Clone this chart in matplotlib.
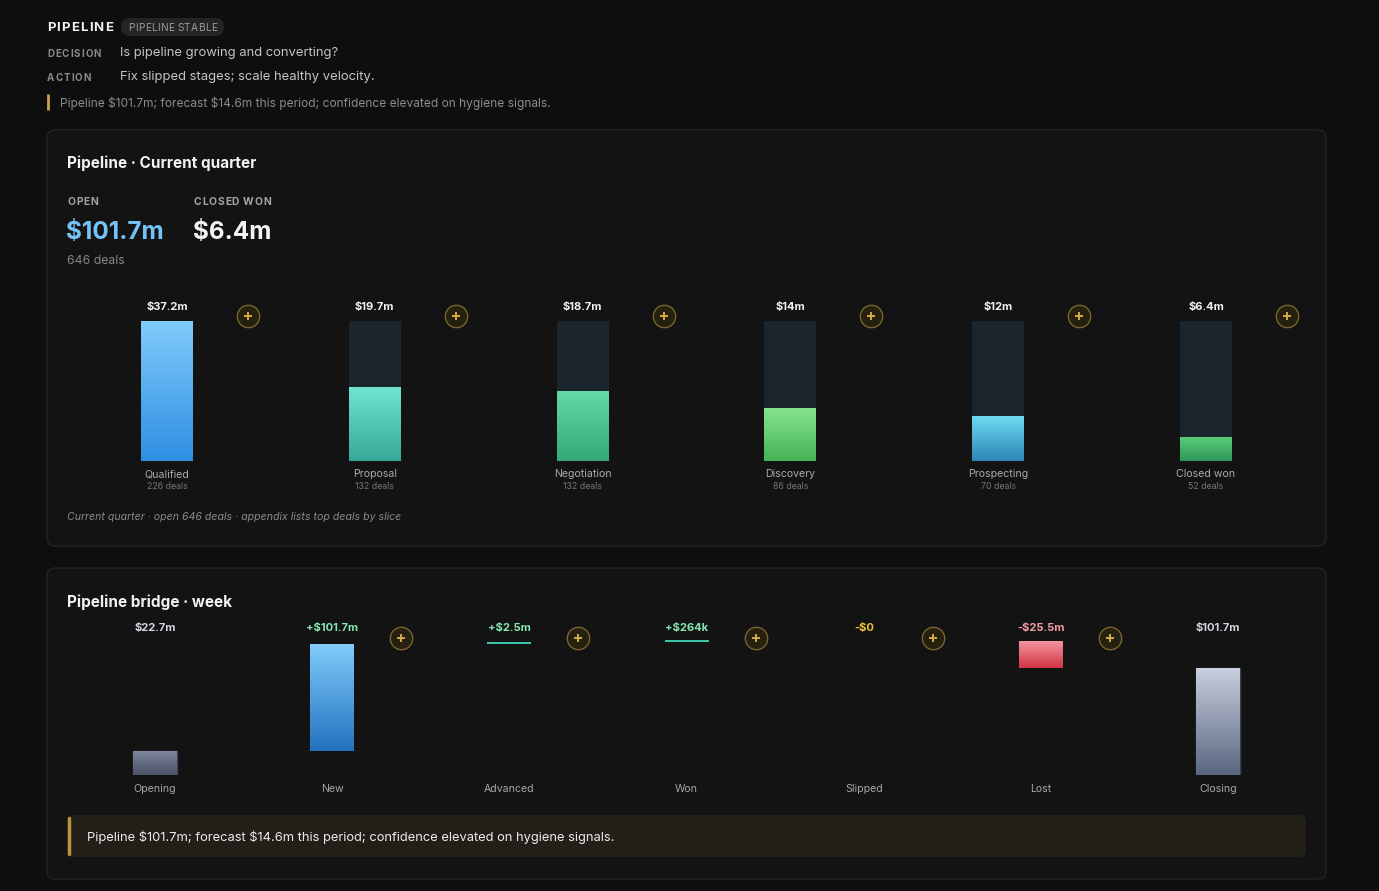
import matplotlib.pyplot as plt
import numpy as np
from matplotlib.colors import to_rgb
from matplotlib.patches import FancyBboxPatch

W, H = 1379, 891

# funnel data
stages = ["Qualified", "Proposal", "Negotiation", "Discovery", "Prospecting", "Closed won"]
stage_values = [37.2, 19.7, 18.7, 14.0, 12.0, 6.4]
stage_value_labels = ["$37.2m", "$19.7m", "$18.7m", "$14m", "$12m", "$6.4m"]
stage_deals = [226, 132, 132, 86, 70, 52]

# bridge data
bridge_steps = ["Opening", "New", "Advanced", "Won", "Slipped", "Lost", "Closing"]
bridge_values = [22.7, 101.7, 2.5, 0.264, 0.0, -25.5, 101.7]
bridge_kinds = ["total", "delta", "delta", "delta", "delta", "delta", "total"]
bridge_value_labels = ["$22.7m", "+$101.7m", "+$2.5m", "+$264k", "-$0", "-$25.5m", "$101.7m"]

summary = "Pipeline $101.7m; forecast $14.6m this period; confidence elevated on hygiene signals."

BG = "#0e0e0e"
PANEL = "#131313"
PANEL_EDGE = "#242424"
GOLD = "#d4ab4a"

stage_colors = [
    ("#80cbfa", "#2e8fe2"),
    ("#70e6d2", "#36a898"),
    ("#62dba8", "#36a878"),
    ("#86e48e", "#46b455"),
    ("#70dcf4", "#2b86b4"),
    ("#5ad078", "#2e955a"),
]

plt.rcParams["font.family"] = ["Inter", "DejaVu Sans"]
plt.rcParams["text.parse_math"] = False


def px_axes(fig, x0, y0, x1, y1):
    return fig.add_axes([x0 / W, 1 - y1 / H, (x1 - x0) / W, (y1 - y0) / H])


def tracked_text(ax, x, y, s, spacing, **kw):
    # crude letter-spacing: one Text per character
    renderer = ax.figure.canvas.get_renderer()
    for ch in s:
        t = ax.text(x, y, ch, **kw)
        w = t.get_window_extent(renderer=renderer).width
        if ch == " ":
            w = kw.get("fontsize", 8) * 0.35
        x += w + spacing


def gradient_fill(ax, patch, top, bottom):
    x0, y0 = patch.get_x(), patch.get_y()
    w, h = patch.get_width(), patch.get_height()
    c0, c1 = np.array(to_rgb(bottom)), np.array(to_rgb(top))
    t = np.linspace(0, 1, 128)[:, None, None]
    img = c0 + (c1 - c0) * t
    im = ax.imshow(img, extent=[x0, x0 + w, y0, y0 + h], origin="lower",
                   aspect="auto", interpolation="bilinear", zorder=patch.get_zorder() + 0.1)
    im.set_clip_path(patch)


def plus_button(ax, x, y, transform):
    ax.scatter([x], [y], s=260, marker="o", facecolor="#26200f", edgecolor="#7a6330",
               linewidth=1.0, transform=transform, clip_on=False, zorder=5)
    ax.scatter([x], [y], s=30, marker="+", color=GOLD, linewidth=1.4,
               transform=transform, clip_on=False, zorder=6)


fig = plt.figure(figsize=(W / 100, H / 100), dpi=100, facecolor=BG)
bg = fig.add_axes([0, 0, 1, 1])
bg.set_xlim(0, W)
bg.set_ylim(H, 0)
bg.axis("off")
bg.set_facecolor(BG)

# header
tracked_text(bg, 47, 28, "PIPELINE", 1.1, color="#f2f2f2", fontsize=9.5, fontweight="bold", va="center")
bg.add_patch(FancyBboxPatch((121, 18), 103, 18, boxstyle="round,pad=0,rounding_size=9",
                            facecolor="#242424", edgecolor="none"))
tracked_text(bg, 128, 28, "PIPELINE STABLE", 0.35, color="#9a9a9a", fontsize=7.3, va="center")
tracked_text(bg, 47, 54, "DECISION", 1.0, color="#8a8a8a", fontsize=7, fontweight="bold", va="center")
bg.text(120, 53, "Is pipeline growing and converting?", color="#c4c4c4", fontsize=9.4, va="center")
tracked_text(bg, 47, 78, "ACTION", 1.0, color="#8a8a8a", fontsize=7, fontweight="bold", va="center")
bg.text(120, 77, "Fix slipped stages; scale healthy velocity.", color="#c4c4c4", fontsize=9.4, va="center")
bg.plot([48, 48], [94, 110], color="#c9a24a", linewidth=2, solid_capstyle="butt")
bg.text(60, 103.5, summary, color="#8c8c8c", fontsize=8.6, va="center")

# panels
for y0, h in [(130, 416), (568, 311)]:
    bg.add_patch(FancyBboxPatch((47, y0), 1279, h, boxstyle="round,pad=0,rounding_size=8",
                                facecolor=PANEL, edgecolor=PANEL_EDGE, linewidth=1))

bg.text(67, 163.5, "Pipeline · Current quarter", color="#f2f2f2", fontsize=11, fontweight="bold", va="center")
tracked_text(bg, 67, 202, "OPEN", 0.9, color="#a4a4a4", fontsize=7.4, fontweight="bold", va="center")
tracked_text(bg, 194, 202, "CLOSED WON", 0.7, color="#a4a4a4", fontsize=7.4, fontweight="bold", va="center")
bg.text(66, 232.5, "$101.7m", color="#74c3f6", fontsize=17.5, fontweight="bold", va="center")
bg.text(193, 232.5, "$6.4m", color="#f4f4f4", fontsize=17.5, fontweight="bold", va="center")
bg.text(67, 260.5, "646 deals", color="#858585", fontsize=8.8, va="center")
bg.text(67, 517, "Current quarter · open 646 deals · appendix lists top deals by slice",
        color="#8a8a8a", fontsize=7.6, style="italic", va="center")

bg.text(67, 602.5, "Pipeline bridge · week", color="#f2f2f2", fontsize=11, fontweight="bold", va="center")

# callout
bg.add_patch(FancyBboxPatch((67, 815), 1239, 42, boxstyle="round,pad=0,rounding_size=6",
                            facecolor="#221f19", edgecolor="none"))
bg.plot([68.5, 68.5], [818, 854], color="#b8923c", linewidth=2.5, solid_capstyle="round")
bg.text(87, 837, summary, color="#ebebeb", fontsize=9.3, va="center")

# funnel chart
slot = 207.8
fx = np.arange(len(stages))
fax = px_axes(fig, 167 - slot / 2, 321, 167 + slot * 5.5, 461)
fax.set_xlim(-0.5, len(stages) - 0.5)
fax.set_ylim(0, 1)
fax.axis("off")
max_val = max(stage_values)
shares = [v / max_val for v in stage_values]
bw = 52 / slot
fax.bar(fx, [1] * len(stages), width=bw, color="#1a252d", zorder=1)
for i, s in enumerate(shares):
    top, bottom = stage_colors[i]
    p = fax.bar(fx[i], s, width=bw, color=bottom, zorder=2)[0]
    gradient_fill(fax, p, top, bottom)
fax.set_xlim(-0.5, len(stages) - 0.5)
fax.set_ylim(0, 1)
for i in range(len(stages)):
    fax.annotate(stage_value_labels[i], (fx[i], 1), xytext=(0, 10.2), textcoords="offset points",
                 ha="center", va="center", color="#f2f2f2", fontsize=8, fontweight="bold")
    fax.annotate(stages[i], (fx[i], 0), xytext=(0, -9.5), textcoords="offset points",
                 ha="center", va="center", color="#aaaaaa", fontsize=7.6)
    fax.annotate(f"{stage_deals[i]} deals", (fx[i], 0), xytext=(0, -18.7), textcoords="offset points",
                 ha="center", va="center", color="#767676", fontsize=6.3)
    plus_button(fax, fx[i] + 81 / slot, 1 + 5 / 140, fax.transData)

# bridge chart
bslot = 177.2
bx = np.arange(len(bridge_steps))
running = 0.0
bottoms, heights = [], []
for v, kind in zip(bridge_values, bridge_kinds):
    if kind == "total":
        bottoms.append(0.0)
        heights.append(v)
        running = v
    else:
        after = running + v
        bottoms.append(min(running, after))
        heights.append(abs(v))
        running = after
peak = max(b + h for b, h in zip(bottoms, heights))

bax = px_axes(fig, 155 - bslot / 2, 628, 155 + bslot * 6.5, 775)
ymax = peak * 1.1
bax.set_xlim(-0.5, len(bridge_steps) - 0.5)
bax.set_ylim(0, ymax)
bax.axis("off")
bbw = 44 / bslot
for i, (b, h, v, kind) in enumerate(zip(bottoms, heights, bridge_values, bridge_kinds)):
    if kind == "total":
        top, bottom = ("#7e869a", "#4a5268") if i == 0 else ("#c8d0de", "#5a6580")
        p = bax.bar(bx[i], h, bottom=b, width=bbw, color=bottom, edgecolor="#3a4252",
                    linewidth=1, zorder=2)[0]
        gradient_fill(bax, p, top, bottom)
        label_color = "#d2d6de"
    elif v > 0:
        if h < 6:
            bax.bar(bx[i], max(h, 2.0 * ymax / 147), bottom=b, width=bbw, color="#3cc4aa", zorder=2)
        else:
            p = bax.bar(bx[i], h, bottom=b, width=bbw, color="#2272c0", zorder=2)[0]
            gradient_fill(bax, p, "#80cbfa", "#2272c0")
        label_color = "#86e6b0"
    elif v < 0:
        p = bax.bar(bx[i], h, bottom=b, width=bbw, color="#d23444", zorder=2)[0]
        gradient_fill(bax, p, "#f2959e", "#d23444")
        label_color = "#f39aa4"
    else:
        label_color = "#f0c23c"
    bax.text(bx[i], 1.0, bridge_value_labels[i], transform=bax.get_xaxis_transform(),
             ha="center", va="center", color=label_color, fontsize=8, fontweight="bold")
    bax.annotate(bridge_steps[i], (bx[i], 0), xytext=(0, -10.3), textcoords="offset points",
                 ha="center", va="center", color="#a6a6a6", fontsize=7.6)
    if kind == "delta":
        plus_button(bax, bx[i] + 69 / bslot, (775 - 638) / 147, bax.get_xaxis_transform())
bax.set_xlim(-0.5, len(bridge_steps) - 0.5)
bax.set_ylim(0, ymax)

fig.savefig("out.png", dpi=100, facecolor=BG)
